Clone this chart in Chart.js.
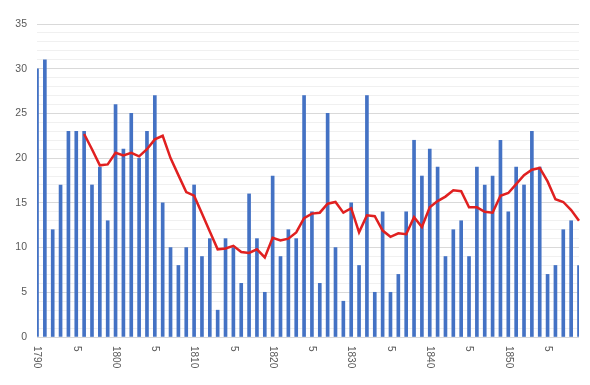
<!DOCTYPE html>
<html>
<head>
<meta charset="utf-8">
<script src="https://cdn.jsdelivr.net/npm/chart.js@4/dist/chart.umd.min.js"></script>
<style>
  html, body { margin: 0; padding: 0; background: #ffffff; }
  #wrap { width: 590px; height: 385px; position: relative; }
</style>
</head>
<body>
<div id="wrap"><canvas id="c" width="590" height="385"></canvas></div>
<script>
// Categories: years 1790..1859
const years = ["1790","1791","1792","1793","1794","1795","1796","1797","1798","1799",
               "1800","1801","1802","1803","1804","1805","1806","1807","1808","1809",
               "1810","1811","1812","1813","1814","1815","1816","1817","1818","1819",
               "1820","1821","1822","1823","1824","1825","1826","1827","1828","1829",
               "1830","1831","1832","1833","1834","1835","1836","1837","1838","1839",
               "1840","1841","1842","1843","1844","1845","1846","1847","1848","1849",
               "1850","1851","1852","1853","1854","1855","1856","1857","1858","1859"];

// Annual values (bars)
const annualValues = [30,31,12,17,23,23,23,17,19,13,
                      26,21,25,20,23,27,15,10,8,10,
                      17,9,11,3,11,10,6,16,11,5,
                      18,9,12,11,27,14,6,25,10,4,
                      15,8,27,5,14,5,7,14,22,18,
                      21,19,9,12,13,9,19,17,18,22,
                      14,19,17,23,19,7,8,12,13,8];

// Moving average (red line), starts in 1796
const movingAverage = [null,null,null,null,null,null,
                       22.7,21.0,19.2,19.3,
                       20.6,20.3,20.6,20.2,21.0,22.1,22.5,20.0,18.1,16.2,
                       15.8,13.8,11.8,9.8,9.9,10.2,9.5,9.4,9.8,8.9,
                       11.1,10.8,11.0,11.7,13.3,13.8,13.9,14.9,15.1,13.9,
                       14.4,11.7,13.6,13.5,11.9,11.2,11.6,11.5,13.4,12.3,
                       14.5,15.2,15.7,16.4,16.3,14.5,14.5,14.0,13.9,15.8,
                       16.1,17.1,18.1,18.7,18.9,17.4,15.4,15.1,14.2,13.0];

// X tick labels, one every 5 years starting at 1790
const xTickLabels = ["1790","5","1800","5","1810","5","1820","5","1830","5","1840","5","1850","5"];
const xTickStep = 5;

// Y axis ticks
const yMax = 35;
const yLabelStep = 5;

const textColor = '#595959';

const rotatedXLabels = {
  id: 'rotatedXLabels',
  afterDraw(chart) {
    const ctx = chart.ctx;
    const xs = chart.scales.x;
    const area = chart.chartArea;
    ctx.save();
    ctx.fillStyle = textColor;
    ctx.font = '10px "Liberation Sans", Arial, sans-serif';
    ctx.textAlign = 'left';
    ctx.textBaseline = 'middle';
    xTickLabels.forEach((lab, k) => {
      const x = xs.getPixelForValue(k * xTickStep);
      ctx.save();
      ctx.translate(x, area.bottom + 9);
      ctx.rotate(Math.PI / 2);
      ctx.fillText(lab, 0, 0);
      ctx.restore();
    });
    ctx.restore();
  }
};

new Chart(document.getElementById('c'), {
  type: 'bar',
  data: {
    labels: years,
    datasets: [
      {
        type: 'line',
        data: movingAverage,
        borderColor: '#e02020',
        borderWidth: 2.5,
        pointRadius: 0,
        tension: 0,
        fill: false,
        spanGaps: false,
        order: 0
      },
      {
        type: 'bar',
        data: annualValues,
        backgroundColor: '#4472c4',
        barThickness: 3,
        order: 1
      }
    ]
  },
  options: {
    responsive: false,
    animation: false,
    events: [],
    layout: { padding: { top: 24, right: 11, left: 0, bottom: 0 } },
    plugins: { legend: { display: false }, tooltip: { enabled: false } },
    scales: {
      x: {
        type: 'category',
        offset: false,
        grid: { display: false },
        border: { display: false },
        ticks: { display: false },
        afterFit(scale) { scale.height = 48; }
      },
      y: {
        min: 0,
        max: yMax,
        border: { display: false },
        grid: {
          drawTicks: false,
          color: (c) => (c.tick && c.tick.value % yLabelStep === 0) ? '#d9d9d9' : '#f0f0f0',
          lineWidth: 1
        },
        ticks: {
          stepSize: 1,
          autoSkip: false,
          padding: 10,
          color: textColor,
          font: { family: '"Liberation Sans", Arial, sans-serif', size: 10.5 },
          callback: (v) => (v % yLabelStep === 0 ? String(v) : '')
        },
        afterFit(scale) { scale.width = 37; }
      }
    }
  },
  plugins: [rotatedXLabels]
});
</script>
</body>
</html>
